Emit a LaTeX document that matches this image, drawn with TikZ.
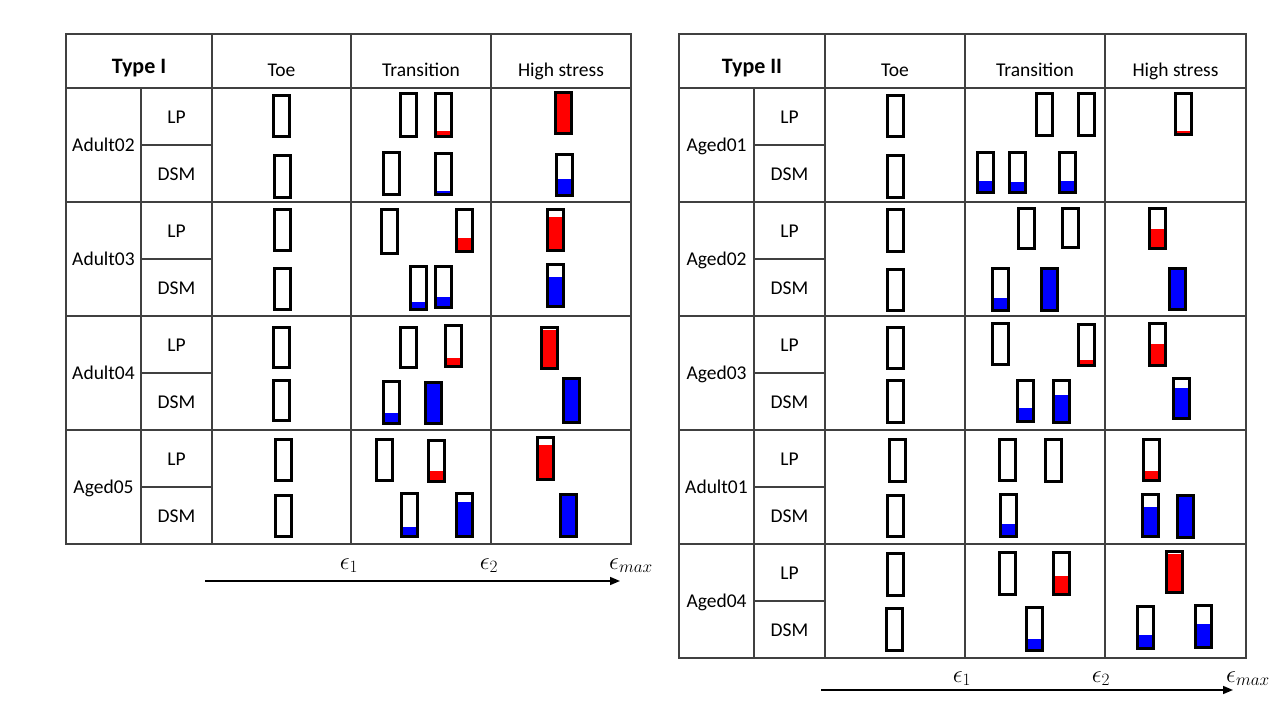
\documentclass[tikz,border=0pt]{standalone}
\usepackage{fontspec}
\setmainfont{Carlito}
\usetikzlibrary{arrows.meta}

% one strain gauge: left x, top y, bottom y, filled fraction, fill colour
\newcommand\strainbar[5]{%
  \pgfmathsetmacro\sbL{#1+1.3}\pgfmathsetmacro\sbR{#1+19-1.3}%
  \pgfmathsetmacro\sbT{#2+1.3}\pgfmathsetmacro\sbB{#3-1.3}%
  \pgfmathsetmacro\sbF{\sbB-#4*(\sbB-\sbT)}%
  \fill[#5] (\sbL,\sbB) rectangle (\sbR,\sbF);
  \draw[barline] (\sbL,\sbT) rectangle (\sbR,\sbB);}
\newcommand\emptybar[3]{\draw[barline] ({#1+1.3},{#2+1.3}) rectangle ({#1+19-1.3},{#3-1.3});}

\begin{document}
\begin{tikzpicture}[x=1pt,y=-1pt,
  grid/.style={draw=black!75, line width=1.1pt},
  barline/.style={draw=black, line width=2.6pt},
  head/.style={font=\fontsize{19.5}{22}\selectfont, anchor=base},
  title/.style={font=\fontsize{22}{26}\selectfont\bfseries, anchor=base},
  lab/.style={font=\fontsize{19.5}{22}\selectfont, anchor=base},
  eps/.style={font=\fontsize{24}{28}\selectfont, anchor=base},
  axis/.style={line width=1.6pt, -{Triangle[length=10pt,width=8pt]}}]
\useasboundingbox[fill=white] (0,0) rectangle (1280,720);

% ---------------- Type I table ----------------
\draw[grid] (66,34) rectangle (631,544);
\foreach \x in {212,351,491} \draw[grid] (\x,34) -- (\x,544);
\draw[grid] (141,88) -- (141,544);
\foreach \y in {88,202,316,430} \draw[grid] (66,\y) -- (631,\y);
\foreach \y in {145,259,373,487} \draw[grid] (141,\y) -- (212,\y);

\node[title] (tI) at (139,73) {Type I};
\node[head] (tIa) at (281.5,76) {Toe};
\node[head] (tIb) at (421,76) {Transition};
\node[head] (tIc) at (561,76) {High stress};
\foreach \n/\c [count=\i] in {Adult02/145,Adult03/259,Adult04/373,Aged05/487}{
  \node[lab] (Ls\i) at (103.5,\c+6.5) {\n};
  \node[lab] (Llp\i) at (176.5,\c-28.5+6.5) {LP};
  \node[lab] (Ldsm\i) at (176.5,\c+28.5+6.5) {DSM};
}

% Adult02
\emptybar{272}{94}{138}
\emptybar{399}{92}{138}
\strainbar{434}{92}{138}{0.12}{red}
\strainbar{554}{91}{135}{0.95}{red}
\emptybar{273}{154}{199}
\emptybar{382}{151}{196}
\strainbar{434}{152}{196}{0.10}{blue}
\strainbar{555}{153}{197}{0.41}{blue}
% Adult03
\emptybar{273}{208}{252}
\emptybar{380}{208}{255}
\strainbar{455}{208}{253}{0.33}{red}
\strainbar{546}{208}{252}{0.82}{red}
\emptybar{273}{267}{311}
\strainbar{409}{265}{311}{0.18}{blue}
\strainbar{434}{265}{309}{0.25}{blue}
\strainbar{546}{263}{308}{0.70}{blue}
% Adult04
\emptybar{272}{326}{369}
\emptybar{399}{326}{369}
\strainbar{444}{324}{368}{0.21}{red}
\strainbar{540}{326}{370}{0.93}{red}
\emptybar{272}{379}{422}
\strainbar{382}{380}{425}{0.26}{blue}
\strainbar{424}{381}{425}{1}{blue}
\strainbar{562}{377}{424}{1}{blue}
% Aged05
\emptybar{274}{438}{482}
\emptybar{375}{438}{482}
\strainbar{427}{439}{483}{0.26}{red}
\strainbar{536}{436}{481}{0.82}{red}
\emptybar{274}{494}{538}
\strainbar{400}{492}{538}{0.22}{blue}
\strainbar{455}{492}{538}{0.80}{blue}
\strainbar{559}{493}{538}{1}{blue}

% strain axis
\node[eps] (eL1) at (349,569) {$\epsilon_1$};
\node[eps] (eL2) at (489,569) {$\epsilon_2$};
\node[eps] (eLm) at (631,569) {$\epsilon_{max}$};
\coordinate (aL0) at (205,581);
\coordinate (aL1) at (620,581);
\draw[axis] (aL0) -- (aL1);

% ---------------- Type II table ----------------
\draw[grid] (679,34) rectangle (1246,658);
\foreach \x in {825,965,1105} \draw[grid] (\x,34) -- (\x,658);
\draw[grid] (754,88) -- (754,658);
\foreach \y in {88,202,316,430,544} \draw[grid] (679,\y) -- (1246,\y);
\foreach \y in {145,259,373,487,601} \draw[grid] (754,\y) -- (825,\y);

\node[title] (tII) at (752,73) {Type II};
\node[head] (tIIa) at (895,76) {Toe};
\node[head] (tIIb) at (1035,76) {Transition};
\node[head] (tIIc) at (1175.5,76) {High stress};
\foreach \n/\c [count=\i] in {Aged01/145,Aged02/259,Aged03/373,Adult01/487,Aged04/601}{
  \node[lab] (Rs\i) at (716.5,\c+6.5) {\n};
  \node[lab] (Rlp\i) at (789.5,\c-28.5+6.5) {LP};
  \node[lab] (Rdsm\i) at (789.5,\c+28.5+6.5) {DSM};
}

% Aged01
\emptybar{886}{94}{138}
\emptybar{1035}{92}{137}
\emptybar{1077}{92}{137}
\strainbar{1174}{92}{136}{0.10}{red}
\emptybar{886}{154}{199}
\strainbar{976}{151}{194}{0.29}{blue}
\strainbar{1008}{151}{194}{0.27}{blue}
\strainbar{1058}{151}{194}{0.28}{blue}
% Aged02
\emptybar{886}{208}{253}
\emptybar{1017}{207}{250}
\emptybar{1061}{207}{249}
\strainbar{1148}{207}{250}{0.48}{red}
\emptybar{886}{268}{312}
\strainbar{991}{267}{312}{0.29}{blue}
\strainbar{1040}{267}{312}{1}{blue}
\strainbar{1168}{267}{311}{1}{blue}
% Aged03
\emptybar{886}{326}{370}
\emptybar{991}{322}{366}
\strainbar{1077}{323}{367}{0.13}{red}
\strainbar{1148}{322}{367}{0.51}{red}
\emptybar{886}{379}{424}
\strainbar{1016}{379}{423}{0.32}{blue}
\strainbar{1052}{379}{424}{0.66}{blue}
\strainbar{1172}{377}{420}{0.75}{blue}
% Adult01
\emptybar{888}{438}{483}
\emptybar{998}{438}{482}
\emptybar{1044}{438}{483}
\strainbar{1142}{438}{482}{0.23}{red}
\emptybar{886}{494}{538}
\strainbar{999}{493}{538}{0.30}{blue}
\strainbar{1141}{493}{538}{0.71}{blue}
\strainbar{1176}{494}{539}{1}{blue}
% Aged04
\emptybar{886}{552}{597}
\emptybar{998}{551}{596}
\strainbar{1052}{551}{596}{0.45}{red}
\strainbar{1165}{550}{594}{0.94}{red}
\emptybar{885}{607}{652}
\strainbar{1025}{606}{652}{0.27}{blue}
\strainbar{1136}{605}{650}{0.33}{blue}
\strainbar{1194}{604}{649}{0.55}{blue}

% strain axis
\node[eps] (eR1) at (962,682) {$\epsilon_1$};
\node[eps] (eR2) at (1101,682) {$\epsilon_2$};
\node[eps] (eRm) at (1248,682) {$\epsilon_{max}$};
\coordinate (aR0) at (821,690);
\coordinate (aR1) at (1233,690);
\draw[axis] (aR0) -- (aR1);
\end{tikzpicture}
\end{document}
